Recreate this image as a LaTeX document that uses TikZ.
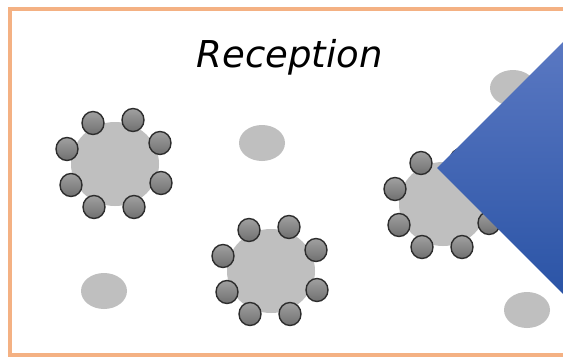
\documentclass[tikz,border=0pt]{standalone}
\usepackage{fontspec}
\newfontfamily\titlefont{DejaVu Sans}[ItalicFont={DejaVu Sans Oblique}]
\definecolor{frameorange}{RGB}{244,177,131}
\definecolor{tablegray}{RGB}{191,191,191}
\definecolor{chairtop}{RGB}{160,160,160}
\definecolor{chairbot}{RGB}{112,112,112}
\definecolor{chairline}{RGB}{45,45,45}
\definecolor{bluetop}{RGB}{90,120,194}
\definecolor{bluebot}{RGB}{43,84,166}
\tikzset{
  tablebox/.style={ellipse, fill=tablegray, minimum width=88pt, minimum height=84pt, inner sep=0pt},
  chairbox/.style={ellipse, draw=chairline, line width=1.4pt, top color=chairtop, bottom color=chairbot, minimum width=22pt, minimum height=23pt, inner sep=0pt},
  spotbox/.style={ellipse, fill=tablegray, minimum width=46pt, minimum height=36pt, inner sep=0pt},
}
\usetikzlibrary{shapes.geometric}
\begin{document}
\begin{tikzpicture}[x=1pt,y=-1pt]
\useasboundingbox (0,0) rectangle (563,359);
\clip (0,0) rectangle (563,359);
\fill[white] (0,0) rectangle (563,359);
% frame
\draw[frameorange, line width=4pt] (570,8.5) -- (9.5,8.5) -- (9.5,355) -- (570,355);
% title
\node[anchor=base, inner sep=0pt, font=\titlefont\itshape\fontsize{37}{40}\selectfont] (title) at (289.5,67) {Reception};
% loose spots
\node[spotbox] (s1) at (262,143) {};
\node[spotbox] (s2) at (104,291) {};
\node[spotbox] (s3) at (513,88) {};
\node[spotbox] (s4) at (527,310) {};
% tables with chairs
\foreach \t/\cx/\cy in {t1/115/164, t2/271/271, t3/443/204}{
  \node[tablebox] (\t) at (\cx,\cy) {};
  \foreach \c/\dx/\dy in {a/-22/-41, b/18/-44, c/45/-21, d/-48/-15, e/-44/21, f/46/19, g/-21/43, h/19/43}{
    \node[chairbox] (\t\c) at (\cx+\dx,\cy+\dy) {};
  }
}
% blue triangle
\shade[top color=bluetop, bottom color=bluebot] (437,168) -- (563,42) -- (563,294) -- cycle;
\end{tikzpicture}
\end{document}
